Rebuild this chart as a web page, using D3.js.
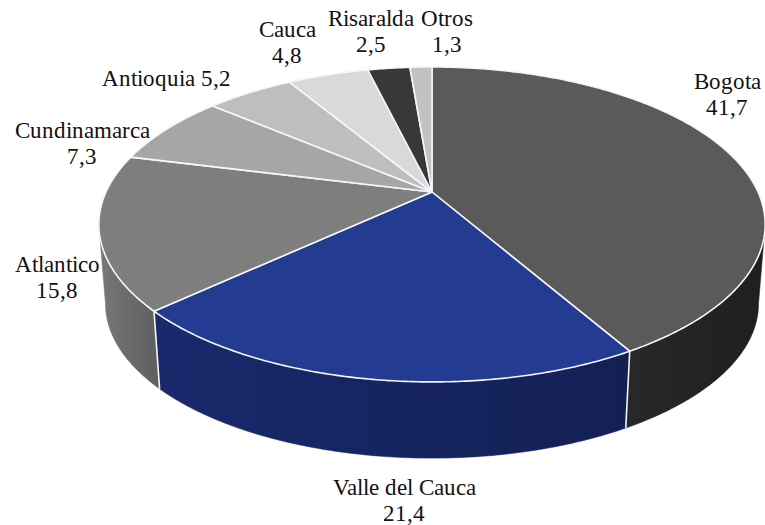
<!DOCTYPE html>
<html>
<head>
<meta charset="utf-8">
<script src="https://cdn.jsdelivr.net/npm/d3@7"></script>
<style>
  @font-face { font-family: "LabelSerif"; src: local("Liberation Serif"), local("LiberationSerif"), local("Tinos"); }
  .lbl { font-family: "LabelSerif", "Liberation Serif", "DejaVu Serif", serif !important; }
</style>
</head>
<body style="margin:0">
<svg id="chart" width="765" height="525"></svg>
<script>
// Share by department (%)
const categories = ["Bogota", "Valle del Cauca", "Atlantico", "Cundinamarca", "Antioquia", "Cauca", "Risaralda", "Otros"];
const values = [41.7, 21.4, 15.8, 7.3, 5.2, 4.8, 2.5, 1.3];

// Slice colours: top face and wall
const topColors  = ["#5a5a5a", "#243b92", "#7e7e7e", "#a6a6a6", "#bebebe", "#d9d9d9", "#383838", "#c2c2c2"];
const sideColors = ["#232323", "#16245f", "#6a6a6a", "#8c8c8c", "#a0a0a0", "#b8b8b8", "#262626", "#a4a4a4"];

// Label anchors (text layout) and whether name and value share one line
const labelLayout = [
  { x: 727, y: 89,  single: false },
  { x: 404, y: 495, single: false },
  { x: 57,  y: 272, single: false },
  { x: 82,  y: 138, single: false },
  { x: 166, y: 86,  single: true  },
  { x: 287, y: 37,  single: false },
  { x: 371, y: 26,  single: false },
  { x: 447, y: 26,  single: false }
];
const lineGap = 26;

const svg = d3.select("#chart");
const fmt = d3.formatLocale({ decimal: ",", thousands: ".", grouping: [3], currency: ["", ""] }).format(".1f");

// Perspective projection of the tilted disc
const cx = 432, cy = 192;        // projected centre of the top face
const A = 326, B = 150.8, k = 0.206;
const s = 0.98, cyb = 272;       // bottom face: slightly smaller, shifted down

function proj(theta, bottom) {
  const u = Math.sin(theta), v = Math.cos(theta);
  const w = 1 + k * v;
  if (!bottom) return [cx + A * u / w, cy - B * v / w];
  return [cx + s * A * u / w, cyb - s * B * v / w];
}

function arcPoints(a0, a1, bottom) {
  const n = Math.max(2, Math.ceil(Math.abs(a1 - a0) / 0.01));
  const pts = [];
  for (let i = 0; i <= n; i++) pts.push(proj(a0 + (a1 - a0) * i / n, bottom));
  return pts;
}

const pie = d3.pie().sort(null).value(d => d).startAngle(0).endAngle(2 * Math.PI);
const arcs = pie(values);

// Visible range of the outer wall (between the two silhouette points)
const wallStart = Math.acos(-k);             // right silhouette
const wallEnd = 2 * Math.PI - Math.acos(-k); // left silhouette

const line = d3.line();

// Gradients for the walls
const defs = svg.append("defs");
arcs.forEach((a, i) => {
  const g = defs.append("linearGradient").attr("id", "wall" + i)
    .attr("x1", "0%").attr("x2", "100%").attr("y1", "0%").attr("y2", "0%");
  const c = d3.color(sideColors[i]);
  g.append("stop").attr("offset", "0%").attr("stop-color", c.brighter(0.35).formatHex());
  g.append("stop").attr("offset", "100%").attr("stop-color", c.darker(0.35).formatHex());
});

const walls = svg.append("g");
const wallEdges = [];
arcs.forEach((a, i) => {
  const a0 = Math.max(a.startAngle, wallStart);
  const a1 = Math.min(a.endAngle, wallEnd);
  if (a1 <= a0) return;
  const top = arcPoints(a0, a1, false);
  const bot = arcPoints(a1, a0, true);
  walls.append("path")
    .attr("d", line(top.concat(bot)) + "Z")
    .attr("fill", "url(#wall" + i + ")")
    .attr("stroke", "url(#wall" + i + ")")
    .attr("stroke-width", 0.6);
  if (a.startAngle >= wallStart && a.startAngle <= wallEnd) wallEdges.push(a.startAngle);
});

// White seams where slices meet on the wall
walls.selectAll("line.seam").data(wallEdges).join("line")
  .attr("class", "seam")
  .attr("x1", d => proj(d, false)[0]).attr("y1", d => proj(d, false)[1])
  .attr("x2", d => proj(d, true)[0]).attr("y2", d => proj(d, true)[1])
  .attr("stroke", "#f4f6fb").attr("stroke-width", 1.6);

// Top faces
const tops = svg.append("g");
arcs.forEach((a, i) => {
  const pts = [[cx, cy]].concat(arcPoints(a.startAngle, a.endAngle, false));
  tops.append("path")
    .attr("d", line(pts) + "Z")
    .attr("fill", topColors[i])
    .attr("stroke", "#f4f6fb")
    .attr("stroke-width", 1.6)
    .attr("stroke-linejoin", "round");
});

// Labels: one text element per line, serif face
const labelLines = [];
arcs.forEach((a, i) => {
  const L = labelLayout[i];
  if (L.single) {
    labelLines.push({ x: L.x, y: L.y, t: categories[i] + " " + fmt(values[i]) });
  } else {
    labelLines.push({ x: L.x, y: L.y, t: categories[i] });
    labelLines.push({ x: L.x, y: L.y + lineGap, t: fmt(values[i]) });
  }
});
svg.selectAll("text.lbl").data(labelLines).join("text")
  .attr("class", "lbl")
  .attr("x", d => d.x).attr("y", d => d.y)
  .attr("font-size", 23)
  .attr("text-anchor", "middle")
  .attr("fill", "#111")
  .text(d => d.t);
</script>
</body>
</html>
